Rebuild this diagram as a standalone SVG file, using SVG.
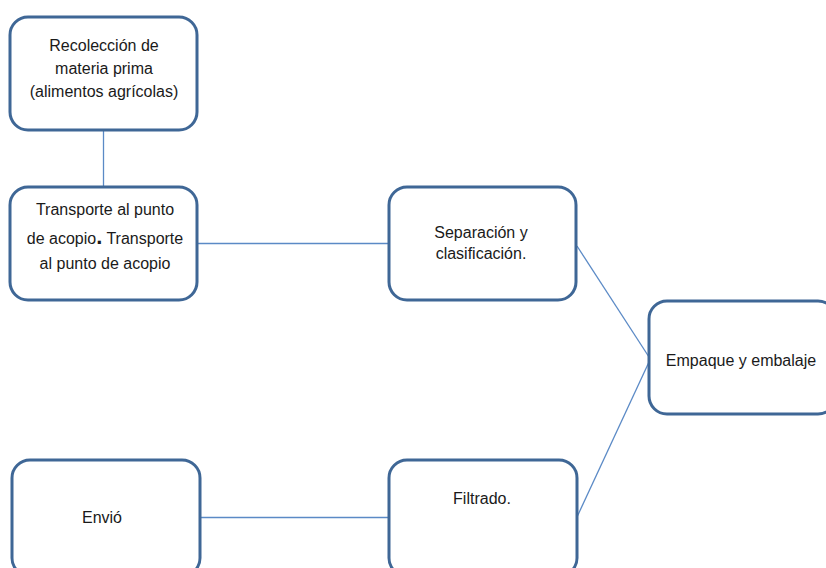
<svg xmlns="http://www.w3.org/2000/svg" width="826" height="568" viewBox="0 0 826 568">
<style>
.box{fill:#fff;stroke:#3f6796;stroke-width:3}
.con{stroke:#5b8ac6;stroke-width:1.3;fill:none}
text{font-family:"Liberation Sans",Arial,sans-serif;font-size:16px;fill:#1a1a1a;text-anchor:middle}
</style>
<rect width="826" height="568" fill="#fff"/>
<g id="connectors">
<line class="con" x1="103.5" y1="130" x2="103.5" y2="187"/>
<line class="con" x1="197" y1="243.5" x2="389" y2="243.5"/>
<line class="con" x1="577" y1="246" x2="649" y2="357"/>
<line class="con" x1="649" y1="362" x2="577" y2="517"/>
<line class="con" x1="200" y1="517.5" x2="389" y2="517.5"/>
</g>
<g id="n1">
<rect class="box" x="10" y="17" width="187" height="113" rx="18"/>
<text x="104" y="51">Recolección de</text>
<text x="104" y="74">materia prima</text>
<text x="104" y="97">(alimentos agrícolas)</text>
</g>
<g id="n2">
<rect class="box" x="10" y="187" width="187" height="113" rx="18"/>
<text x="105" y="215">Transporte al punto</text>
<text x="105" y="244">de acopio<tspan font-size="22px" font-weight="bold">.</tspan> Transporte</text>
<text x="105" y="269">al punto de acopio</text>
</g>
<g id="n3">
<rect class="box" x="389" y="187" width="187" height="113" rx="18"/>
<text x="481" y="238">Separación y</text>
<text x="481" y="259">clasificación.</text>
</g>
<g id="n4">
<rect class="box" x="649" y="301" width="187" height="113" rx="18"/>
<text x="741" y="366">Empaque y embalaje</text>
</g>
<g id="n5">
<rect class="box" x="12" y="460" width="188" height="116" rx="18"/>
<text x="102" y="523">Envió</text>
</g>
<g id="n6">
<rect class="box" x="389" y="460" width="188" height="116" rx="18"/>
<text x="482" y="504">Filtrado.</text>
</g>
</svg>
